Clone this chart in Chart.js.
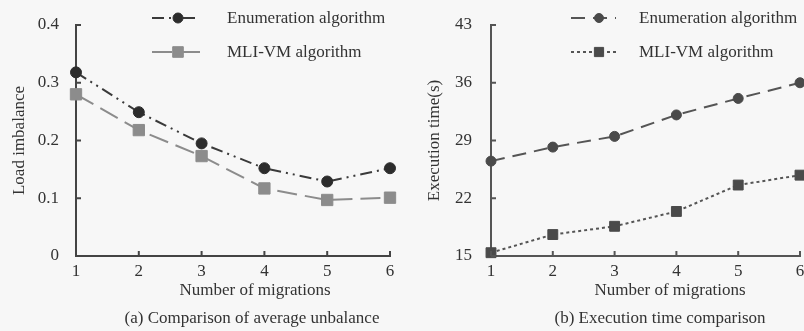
<!DOCTYPE html>
<html>
<head>
<meta charset="utf-8">
<script src="https://cdn.jsdelivr.net/npm/chart.js@4.4.1/dist/chart.umd.min.js"></script>
<style>
  html, body { margin: 0; padding: 0; background: #f7f7f7; overflow: hidden; }
  #wrap { position: relative; width: 804px; height: 331px; overflow: hidden; }
  canvas { position: absolute; top: 0; }
  #left { left: 0; }
  #right { left: 404px; }
</style>
</head>
<body>
<div id="wrap">
  <canvas id="left" width="404" height="331"></canvas>
  <canvas id="right" width="430" height="331"></canvas>
</div>
<script>
// values
const migrations = [1, 2, 3, 4, 5, 6];
const enumImbalance = [0.318, 0.249, 0.195, 0.152, 0.129, 0.152];
const mliImbalance = [0.28, 0.218, 0.173, 0.117, 0.097, 0.101];
const imbalanceTicks = [0, 0.1, 0.2, 0.3, 0.4];
const enumTime = [26.5, 28.2, 29.5, 32.1, 34.1, 36.0];
const mliTime = [15.4, 17.6, 18.6, 20.4, 23.6, 24.8];
const timeTicks = [15, 22, 29, 36, 43];
const seriesNames = ['Enumeration algorithm', 'MLI-VM algorithm'];

Chart.defaults.font.family = '"Liberation Serif", "Times New Roman", serif';
Chart.defaults.font.size = 17;
Chart.defaults.color = '#333';

// inward tick marks, legend rows, x title and caption
const decorPlugin = {
    id: 'decor',
    afterDraw(chart, args, opts) {
        const ctx = chart.ctx;
        const xs = chart.scales.x;
        const ys = chart.scales.y;
        const area = chart.chartArea;
        ctx.save();
        ctx.strokeStyle = opts.axisColor;
        ctx.lineWidth = 2;
        ctx.setLineDash([]);
        ctx.beginPath();
        xs.ticks.forEach(t => {
            const px = xs.getPixelForValue(t.value);
            ctx.moveTo(px, area.bottom);
            ctx.lineTo(px, area.bottom - 5);
        });
        ys.ticks.forEach(t => {
            const py = ys.getPixelForValue(t.value);
            ctx.moveTo(area.left, py);
            ctx.lineTo(area.left + 5, py);
        });
        ctx.stroke();

        // legend
        const lg = opts.legend;
        chart.data.datasets.forEach((ds, i) => {
            const y = lg.rows[i];
            ctx.strokeStyle = ds.borderColor;
            ctx.lineWidth = ds.borderWidth;
            ctx.setLineDash(ds.borderDash || []);
            ctx.beginPath();
            ctx.moveTo(lg.x1, y);
            ctx.lineTo(lg.x2, y);
            ctx.stroke();
            ctx.setLineDash([]);
            ctx.fillStyle = ds.pointBackgroundColor;
            ctx.strokeStyle = ds.pointBackgroundColor;
            ctx.lineWidth = 1;
            Chart.helpers.drawPoint(ctx, {
                pointStyle: ds.pointStyle, radius: ds.pointRadius - 0.5, rotation: 0, borderWidth: 1
            }, lg.xm, y);
            ctx.fillStyle = '#333';
            ctx.font = '17px "Liberation Serif", serif';
            ctx.textAlign = 'left';
            ctx.textBaseline = 'middle';
            ctx.fillText(ds.label, lg.xt, y + 1);
        });

        ctx.fillStyle = '#333';
        ctx.font = '17px "Liberation Serif", serif';
        ctx.textAlign = 'center';
        ctx.textBaseline = 'middle';
        ctx.fillText(opts.xTitle, opts.xTitleX, 291);
        ctx.fillText(opts.caption, opts.captionX, 319);
        ctx.restore();
    }
};

function makeChart(id, p) {
    return new Chart(document.getElementById(id), {
        type: 'line',
        data: {
            datasets: p.series.map((values, i) => ({
                label: seriesNames[i],
                data: values.map((v, k) => ({ x: migrations[k], y: v })),
                borderColor: p.styles[i].line,
                borderWidth: 2,
                borderDash: p.styles[i].dash,
                pointStyle: p.styles[i].point,
                pointRadius: p.styles[i].radius,
                pointBackgroundColor: p.styles[i].marker,
                pointBorderColor: p.styles[i].marker,
                pointBorderWidth: 1,
                fill: false,
                tension: 0,
                clip: false
            }))
        },
        options: {
            responsive: false,
            animation: false,
            layout: { padding: { top: 25, right: p.padRight, left: 0, bottom: 0 } },
            plugins: {
                legend: { display: false },
                tooltip: { enabled: false },
                decor: {
                    axisColor: p.axisColor,
                    legend: p.legend,
                    xTitle: 'Number of migrations',
                    xTitleX: p.xTitleX,
                    caption: p.caption,
                    captionX: p.captionX
                }
            },
            scales: {
                x: {
                    type: 'linear',
                    min: 1,
                    max: 6,
                    grid: { display: false },
                    border: { display: true, color: p.axisColor, width: 2 },
                    ticks: { padding: -3, maxRotation: 0, callback: v => String(v) },
                    afterBuildTicks: s => { s.ticks = migrations.map(v => ({ value: v })); },
                    afterFit: s => { s.height = 75; }
                },
                y: {
                    min: p.yTicks[0],
                    max: p.yTicks[p.yTicks.length - 1],
                    grid: { display: false },
                    border: { display: true, color: p.axisColor, width: 2 },
                    ticks: { padding: p.tickPad, callback: v => String(v) },
                    afterBuildTicks: s => { s.ticks = p.yTicks.map(v => ({ value: v })); },
                    afterFit: s => { s.width = p.yWidth; },
                    title: {
                        display: true,
                        text: p.yTitle,
                        padding: { top: p.yTitlePad, bottom: 0 }
                    }
                }
            }
        },
        plugins: [decorPlugin]
    });
}

makeChart('left', {
    series: [enumImbalance, mliImbalance],
    yTicks: imbalanceTicks,
    yTitle: 'Load imbalance',
    yWidth: 76,
    yTitlePad: 9,
    tickPad: 9,
    padRight: 14,
    axisColor: '#444',
    styles: [
        { line: '#3a3a3a', marker: '#2c2c2c', dash: [12, 5, 2, 5, 2, 5], point: 'circle', radius: 5.5 },
        { line: '#8c8c8c', marker: '#8c8c8c', dash: [20, 8], point: 'rect', radius: 8 }
    ],
    legend: { x1: 152, x2: 200, xm: 178, xt: 227, rows: [18, 52] },
    xTitleX: 255,
    caption: '(a) Comparison of average unbalance',
    captionX: 252
});

makeChart('right', {
    series: [enumTime, mliTime],
    yTicks: timeTicks,
    yTitle: 'Execution time(s)',
    yWidth: 87,
    yTitlePad: 20,
    tickPad: 11,
    padRight: 34,
    axisColor: '#555',
    styles: [
        { line: '#555', marker: '#4a4a4a', dash: [14, 8], point: 'circle', radius: 5 },
        { line: '#555', marker: '#4a4a4a', dash: [3, 3], point: 'rect', radius: 7 }
    ],
    legend: { x1: 167, x2: 212, xm: 195, xt: 235, rows: [18, 52] },
    xTitleX: 266,
    caption: '(b) Execution time comparison',
    captionX: 256
});
</script>
</body>
</html>
